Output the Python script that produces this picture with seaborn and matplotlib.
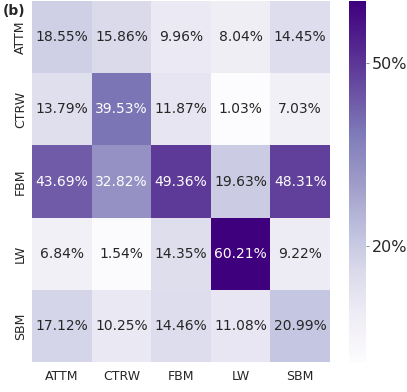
import numpy as np
import pandas as pd
import matplotlib
matplotlib.use("Agg")
import matplotlib.pyplot as plt
import seaborn as sns

labels = ["ATTM", "CTRW", "FBM", "LW", "SBM"]
row_attm = [18.55, 15.86, 9.96, 8.04, 14.45]
row_ctrw = [13.79, 39.53, 11.87, 1.03, 7.03]
row_fbm = [43.69, 32.82, 49.36, 19.63, 48.31]
row_lw = [6.84, 1.54, 14.35, 60.21, 9.22]
row_sbm = [17.12, 10.25, 14.46, 11.08, 20.99]
cbar_ticks = [20, 50]

df = pd.DataFrame([row_attm, row_ctrw, row_fbm, row_lw, row_sbm], index=labels, columns=labels)
annot = df.map(lambda v: f"{v:.2f}%")

plt.rcParams["text.color"] = "#262626"
plt.rcParams["xtick.color"] = "#262626"
plt.rcParams["ytick.color"] = "#262626"

W, H = 407, 392
fig = plt.figure(figsize=(W / 100, H / 100), dpi=100)
ax = fig.add_axes([32 / W, 1 - 362 / H, 298 / W, 361 / H])
cax = fig.add_axes([349 / W, 1 - 362 / H, 17 / W, 361 / H])

sns.heatmap(df, ax=ax, cbar_ax=cax, cmap="Purples", annot=annot, fmt="",
            annot_kws={"fontsize": 10}, cbar=True)
ax.tick_params(axis="both", labelsize=9, length=0)
ax.tick_params(axis="x", pad=6)
ax.set_yticklabels(labels, rotation=90, va="center")

cb = ax.collections[0].colorbar
cb.set_ticks(cbar_ticks)
cb.set_ticklabels([f"{t}%" for t in cbar_ticks])
cb.ax.tick_params(labelsize=11.5, length=2.5, width=0.6, color="#777777", pad=1.5)
cb.outline.set_visible(False)

fig.text(3 / W, 1 - 15 / H, "(b)", fontsize=10, fontweight="bold")

fig.savefig("out.png", dpi=100)
